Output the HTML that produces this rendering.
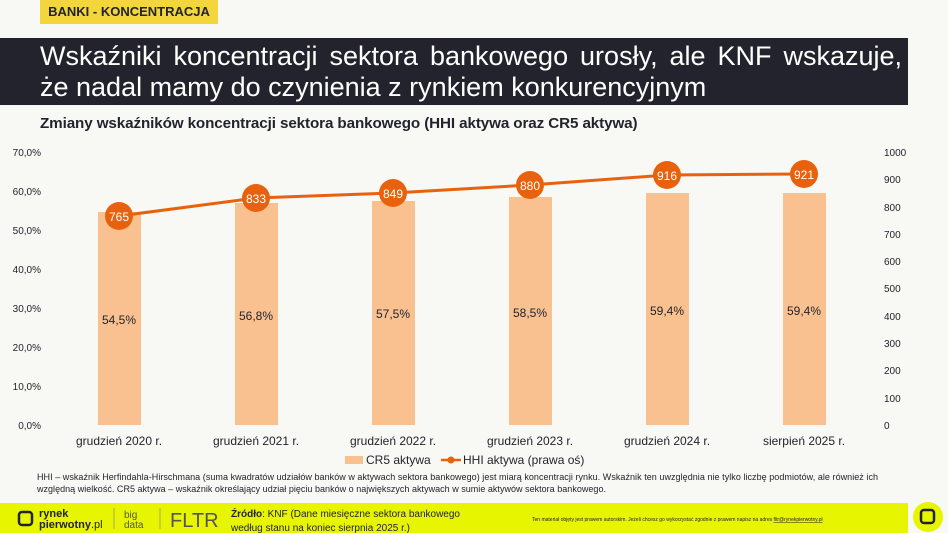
<!DOCTYPE html>
<html><head><meta charset="utf-8"><style>
body{margin:0;width:948px;height:533px;background:#f8f8f4;font-family:"Liberation Sans",sans-serif;position:relative;overflow:hidden}
.a{position:absolute;white-space:nowrap}
</style></head><body>
<div class="a" style="left:40px;top:0;width:178px;height:24px;background:#f3d53c;color:#23232d;font-weight:bold;font-size:13px;line-height:24px;text-align:center">BANKI - KONCENTRACJA</div>
<div class="a" style="left:0;top:38px;width:908px;height:67px;background:#23232d"></div>
<div class="a" style="left:40px;top:41px;color:#fff;font-size:27px;line-height:31px;width:862px;white-space:normal;text-align:justify;text-align-last:left">Wskaźniki koncentracji sektora bankowego urosły, ale KNF wskazuje, że nadal mamy do czynienia z rynkiem konkurencyjnym</div>
<div class="a" style="left:40px;top:115px;font-size:15.2px;font-weight:bold;color:#23232d;letter-spacing:-0.1px">Zmiany wskaźników koncentracji sektora bankowego (HHI aktywa oraz CR5 aktywa)</div>
<svg class="a" style="left:0;top:0" width="948" height="533" font-family="Liberation Sans,sans-serif">
<g font-size="10" fill="#23232d" text-anchor="end">
<text x="41" y="156">70,0%</text><text x="41" y="195">60,0%</text><text x="41" y="234">50,0%</text><text x="41" y="273">40,0%</text><text x="41" y="312">30,0%</text><text x="41" y="351">20,0%</text><text x="41" y="390">10,0%</text><text x="41" y="429">0,0%</text>
</g>
<g font-size="10" fill="#23232d">
<text x="884" y="156">1000</text><text x="884" y="183">900</text><text x="884" y="211">800</text><text x="884" y="238">700</text><text x="884" y="265">600</text><text x="884" y="292">500</text><text x="884" y="320">400</text><text x="884" y="347">300</text><text x="884" y="374">200</text><text x="884" y="402">100</text><text x="884" y="429">0</text>
</g>
<g fill="#f9c190">
<rect x="98" y="212" width="43" height="213"/><rect x="235" y="203" width="43" height="222"/><rect x="372" y="201" width="43" height="224"/><rect x="509" y="197" width="43" height="228"/><rect x="646" y="193" width="43" height="232"/><rect x="783" y="193" width="43" height="232"/>
</g>
<g font-size="12" fill="#23232d" text-anchor="middle">
<text x="119" y="324">54,5%</text><text x="256" y="320">56,8%</text><text x="393" y="318">57,5%</text><text x="530" y="317">58,5%</text><text x="667" y="315">59,4%</text><text x="804" y="315">59,4%</text>
<text x="119" y="445">grudzień 2020 r.</text><text x="256" y="445">grudzień 2021 r.</text><text x="393" y="445">grudzień 2022 r.</text><text x="530" y="445">grudzień 2023 r.</text><text x="667" y="445">grudzień 2024 r.</text><text x="804" y="445">sierpień 2025 r.</text>
</g>
<polyline points="119,216 256,198 393,193 530,185 667,175 804,174" fill="none" stroke="#e8620e" stroke-width="3"/>
<g fill="#e8620e"><circle cx="119" cy="216" r="14"/><circle cx="256" cy="198" r="14"/><circle cx="393" cy="193" r="14"/><circle cx="530" cy="185" r="14"/><circle cx="667" cy="175" r="14"/><circle cx="804" cy="174" r="14"/></g>
<g font-size="12" fill="#fff" text-anchor="middle">
<text x="119" y="221">765</text><text x="256" y="203">833</text><text x="393" y="198">849</text><text x="530" y="190">880</text><text x="667" y="180">916</text><text x="804" y="179">921</text>
</g>
<rect x="345" y="456" width="18" height="8" fill="#f9c190"/>
<text x="366" y="464" font-size="12" fill="#23232d">CR5 aktywa</text>
<line x1="441" y1="460" x2="461" y2="460" stroke="#e8620e" stroke-width="2.5"/><circle cx="451" cy="460" r="3.5" fill="#e8620e"/>
<text x="463" y="464" font-size="12" fill="#23232d">HHI aktywa (prawa oś)</text>
<text x="37" y="480" font-size="9" fill="#23232d" textLength="841">HHI – wskaźnik Herfindahla-Hirschmana (suma kwadratów udziałów banków w aktywach sektora bankowego) jest miarą koncentracji rynku. Wskaźnik ten uwzględnia nie tylko liczbę podmiotów, ale również ich</text>
<text x="37" y="492" font-size="9" fill="#23232d" textLength="569">względną wielkość. CR5 aktywa – wskaźnik określający udział pięciu banków o największych aktywach w sumie aktywów sektora bankowego.</text>
<rect x="0" y="503" width="908" height="30" fill="#e8f500"/>
<circle cx="928" cy="517" r="15" fill="#e8f500"/>
<rect x="921" y="510" width="13" height="13" rx="3" fill="none" stroke="#23232d" stroke-width="2.5"/>
<rect x="19" y="512" width="13" height="13" rx="3" fill="none" stroke="#23232d" stroke-width="2.5"/>
<text x="39" y="517" font-size="11" font-weight="bold" fill="#23232d">rynek</text>
<text x="39" y="528" font-size="11" font-weight="bold" fill="#23232d">pierwotny<tspan font-weight="normal">.pl</tspan></text>
<line x1="114" y1="508" x2="114" y2="529" stroke="#888" stroke-width="0.7"/>
<text x="124" y="518" font-size="10" fill="#555">big</text><text x="124" y="528" font-size="10" fill="#555">data</text>
<line x1="160" y1="508" x2="160" y2="529" stroke="#888" stroke-width="0.7"/>
<text x="170" y="527" font-size="20" fill="#555">FLTR</text>
<text x="231" y="517" font-size="10" fill="#23232d"><tspan font-weight="bold">Źródło</tspan>: KNF (Dane miesięczne sektora bankowego</text>
<text x="231" y="531" font-size="10" fill="#23232d">według stanu na koniec sierpnia 2025 r.)</text>
<text x="532" y="521" font-size="5" fill="#23232d">Ten materiał objęty jest prawem autorskim. Jeżeli chcesz go wykorzystać zgodnie z prawem napisz na adres <tspan text-decoration="underline">fltr@rynekpierwotny.pl</tspan></text>
</svg>
</body></html>
